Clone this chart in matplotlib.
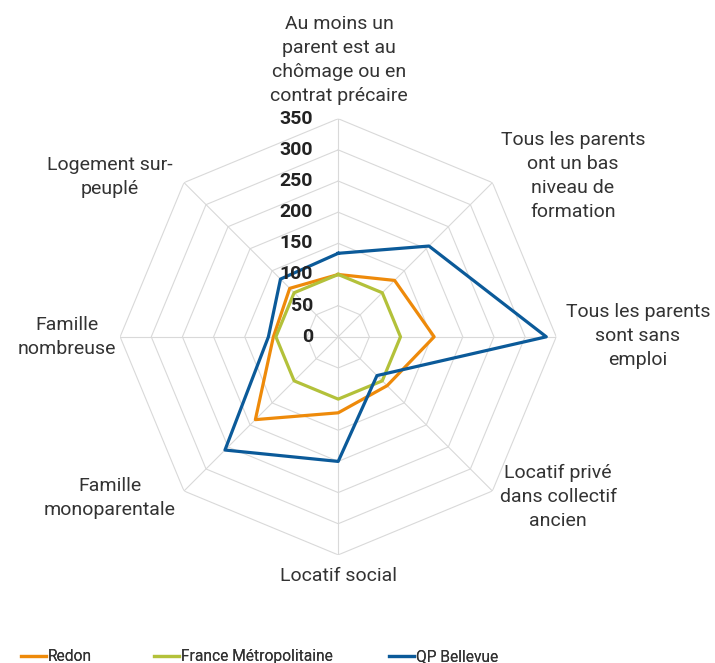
import numpy as np
import matplotlib
matplotlib.use("Agg")
import matplotlib.pyplot as plt
from matplotlib import font_manager

plt.rcParams['font.family'] = ['Roboto', 'DejaVu Sans']

categories = ["Au moins un\nparent est au\nchômage ou en\ncontrat précaire",
              "Tous les parents\nont un bas\nniveau de\nformation",
              "Tous les parents\nsont sans\nemploi",
              "Locatif privé\ndans collectif\nancien",
              "Locatif social",
              "Famille\nmonoparentale",
              "Famille\nnombreuse",
              "Logement sur-\npeuplé"]
redon = [100, 128, 154, 111, 122, 188, 104, 110]
france = [100, 100, 100, 100, 100, 100, 100, 100]
bellevue = [134, 206, 334, 88, 200, 257, 112, 131]
ticks = [0, 50, 100, 150, 200, 250, 300, 350]

# label centres in pixels (x, y from top)
label_pos = [(339, 60), (573, 176), (638, 336), (558, 497),
             (339, 576), (110, 498), (67, 337), (110, 177)]

W, H = 715, 663
fig = plt.figure(figsize=(W / 100, H / 100), dpi=100)
ax = fig.add_axes([0.168, 0.163, 0.61, 0.658], projection='polar')
ax.set_theta_offset(np.pi / 2)
ax.set_theta_direction(-1)
ax.set_ylim(0, 350)
ax.set_axis_off()

n = len(categories)
theta = np.linspace(0, 2 * np.pi, n, endpoint=False)
tc = np.append(theta, theta[0])

gcol = '#d9d9d9'
for t in ticks[1:]:
    ax.plot(tc, [t] * (n + 1), color=gcol, lw=0.8, zorder=1)
for th in theta:
    ax.plot([th, th], [0, 350], color=gcol, lw=0.8, zorder=1)

for t in ticks:
    ax.annotate(str(t), (0, t), xytext=(-18, 0), textcoords='offset points',
                ha='right', va='center', fontsize=14, fontweight='bold',
                color='#222222', zorder=5)

series = [("Redon", redon, "#EE8A0A"),
          ("France Métropolitaine", france, "#B3C13A"),
          ("QP Bellevue", bellevue, "#0B5A99")]
lines = []
for name, vals, c in series:
    ln, = ax.plot(tc, vals + vals[:1], color=c, lw=2.3, label=name, zorder=3)
    lines.append(ln)

for lab, (x, y) in zip(categories, label_pos):
    fig.text(x / W, 1 - y / H, lab, ha='center', va='center', fontsize=14,
             color='#333333', linespacing=1.45)

# legend: one entry per legend so each sits where it does in the original
names = [f.name for f in font_manager.fontManager.ttflist]
legfam = ['Liberation Sans Narrow', 'Roboto'] if 'Liberation Sans Narrow' in names else ['Roboto']
leg_x = [19, 152, 387]
for ln, x in zip(lines, leg_x):
    lg = fig.legend([ln], [ln.get_label()], loc='lower left',
                    bbox_to_anchor=(x / W, -0.004), frameon=False,
                    prop={'family': legfam, 'size': 11.2}, handlelength=1.65,
                    handletextpad=0.12, borderaxespad=0.0, borderpad=0.1,
                    labelcolor='#333333')
    fig.add_artist(lg)

fig.savefig("out.png", dpi=100)
